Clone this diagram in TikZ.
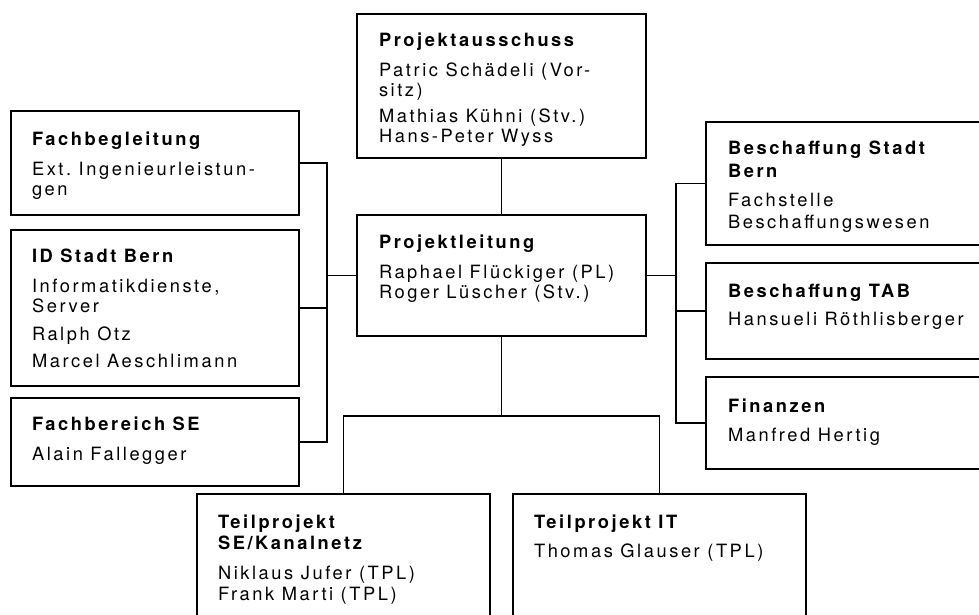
\documentclass[tikz,border=0pt]{standalone}
\usepackage{fontspec}
\setmainfont{TeX Gyre Heros}[LetterSpace=14]
\newcommand\orgtextfont{\fontsize{18.3}{21}\selectfont}
\newcommand\orgsetup{\baselineskip=21pt\relax\spaceskip=7.5pt plus 1pt minus 1pt\relax\xspaceskip=7.5pt plus 1pt minus 1pt\relax}
\begin{document}
\begin{tikzpicture}[x=1pt,y=-1pt,
  box/.style={draw, line width=1.4pt, inner sep=0pt, outer sep=0pt, anchor=north west},
  txt/.style={anchor=base west, inner sep=0pt, outer sep=0pt, align=left, text width=300pt, font=\orgtextfont},
  link/.style={line width=1.4pt}]
\useasboundingbox (0,0) rectangle (979,615);
\fill[white] (0,0) rectangle (979,615);
\clip (0,0) rectangle (979,615);

% boxes
\node[box, minimum width=289, minimum height=144] (pa) at (357,14) {};
\node[box, minimum width=289, minimum height=121] (pl) at (357,215) {};
\node[box, minimum width=288, minimum height=104] (fb) at (11,111) {};
\node[box, minimum width=288, minimum height=156] (id) at (11,230) {};
\node[box, minimum width=288, minimum height=88] (fs) at (11,398) {};
\node[box, minimum width=276, minimum height=123] (bs) at (706,122) {};
\node[box, minimum width=276, minimum height=96] (tab) at (706,263) {};
\node[box, minimum width=276, minimum height=92] (fi) at (706,377) {};
\node[box, minimum width=293, minimum height=126] (tse) at (197,494) {};
\node[box, minimum width=293, minimum height=126] (tit) at (513,494) {};

% texts
\node[txt] (pa-t) at (379,47) {\orgsetup\textbf{Projektausschuss}\\[9pt]Patric Schädeli (Vor-\\[-1pt]sitz)\\[5pt]Mathias Kühni (Stv.)\\[-1pt]Hans-Peter Wyss\par};
\node[txt] (pl-t) at (379,248) {\orgsetup\textbf{Projektleitung}\\[9pt]Raphael Flückiger (PL)\\[-1pt]Roger Lüscher (Stv.)\par};
\node[txt] (fb-t) at (32,145) {\orgsetup\textbf{Fachbegleitung}\\[9pt]Ext. Ingenieurleistun-\\[-1pt]gen\par};
\node[txt] (id-t) at (32,262) {\orgsetup\textbf{ID Stadt Bern}\\[9pt]Informatikdienste,\\[-1pt]Server\\[7pt]Ralph Otz\\[6pt]Marcel Aeschlimann\par};
\node[txt] (fs-t) at (32,430) {\orgsetup\textbf{Fachbereich SE}\\[9pt]Alain Fallegger\par};
\node[txt] (bs-t) at (728,154) {\orgsetup{\bfseries Beschaffung Stadt\\[2pt]Bern}\\[8pt]Fachstelle\\[1pt]Beschaffungswesen\par};
\node[txt] (tab-t) at (728,297) {\orgsetup\textbf{Beschaffung TAB}\\[7pt]Hansueli Röthlisberger\par};
\node[txt] (fi-t) at (728,412) {\orgsetup\textbf{Finanzen}\\[8pt]Manfred Hertig\par};
\node[txt] (tse-t) at (218,528) {\orgsetup{\bfseries Teilprojekt\\[0pt]SE/Kanalnetz}\\[9pt]Niklaus Jufer (TPL)\\[0pt]Frank Marti (TPL)\par};
\node[txt] (tit-t) at (534,528) {\orgsetup\textbf{Teilprojekt IT}\\[8pt]Thomas Glauser (TPL)\par};

% connectors
\coordinate (lj) at (327,0);
\coordinate (rj) at (676,0);
\coordinate (bj) at (501.5,416);
\draw[link] (fb.east) -- (fb.east -| lj) -- (fs.east -| lj) -- (fs.east);
\draw[link] (id.east) -- (id.east -| lj);
\draw[link] (pl.west) -- (pl.west -| lj);
\draw[link] (bs.west) -- (bs.west -| rj) -- (fi.west -| rj) -- (fi.west);
\draw[link] (tab.west) -- (tab.west -| rj);
\draw[link] (pl.east) -- (pl.east -| rj);
\draw[link] (pa.south) -- (pl.north);
\draw[link] (pl.south) -- (bj);
\draw[link] (tse.north) -- (tse.north |- bj) -- (tit.north |- bj) -- (tit.north);
\end{tikzpicture}
\end{document}
